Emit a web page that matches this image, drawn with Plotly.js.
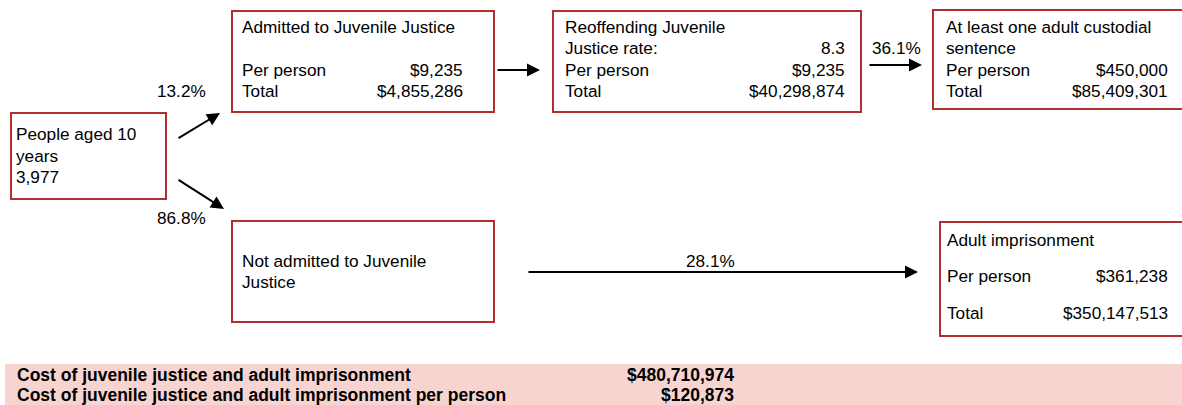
<!DOCTYPE html>
<html>
<head>
<meta charset="utf-8">
<script src="https://cdn.plot.ly/plotly-3.0.1.min.js"></script>
<style>html,body{margin:0;padding:0;background:#fff;}#chart{width:1182px;height:405px;}</style>
</head>
<body>
<div id="chart"></div>
<script>
// ---- data ----
const startLabel = ["People aged 10", "years", "3,977"];
const admittedTitle = ["Admitted to Juvenile Justice"];
const admittedRows = ["Per person", "Total"];
const admittedValues = ["$9,235", "$4,855,286"];
const reoffTitle = ["Reoffending Juvenile"];
const reoffRows = ["Justice rate:", "Per person", "Total"];
const reoffValues = ["8.3", "$9,235", "$40,298,874"];
const custodialTitle = ["At least one adult custodial", "sentence"];
const custodialRows = ["Per person", "Total"];
const custodialValues = ["$450,000", "$85,409,301"];
const notAdmittedTitle = ["Not admitted to Juvenile", "Justice"];
const adultTitle = ["Adult imprisonment"];
const adultRows = ["Per person", "Total"];
const adultValues = ["$361,238", "$350,147,513"];
const flowPercents = ["13.2%", "86.8%", "36.1%", "28.1%"];
const summaryLabels = ["Cost of juvenile justice and adult imprisonment",
                       "Cost of juvenile justice and adult imprisonment per person"];
const summaryValues = ["$480,710,974", "$120,873"];

// ---- layout / style ----
const FONT = "Liberation Sans, Arial, sans-serif";
const FS = 17.2;
const BFS = 17.5;
const BORDER = "#b0302f";
const shapes = [];
const ann = [];

function box(x0, y0, x1, y1) {
  shapes.push({type: "rect", xref: "x", yref: "y", x0, y0, x1, y1,
    line: {color: BORDER, width: 2}, fillcolor: "rgba(0,0,0,0)"});
}
function txt(x, y, t, anchor, opts) {
  opts = opts || {};
  anchor = anchor || "left";
  const dx = anchor === "left" ? -1 : (anchor === "right" ? -1 : 0);
  ann.push({xref: "x", yref: "y", x: x + dx, y, text: t, showarrow: false,
    xanchor: anchor, yanchor: "middle", borderpad: 0,
    font: {family: FONT, size: opts.size || FS, color: "#000",
           weight: opts.weight || "normal"}});
}
function arrow(x0, y0, x1, y1) {
  ann.push({xref: "x", yref: "y", axref: "x", ayref: "y", x: x1, y: y1, ax: x0, ay: y0,
    text: "", showarrow: true, arrowhead: 2, arrowsize: 1.3, arrowwidth: 2,
    arrowcolor: "#000", standoff: 0, startstandoff: 0});
}

// summary band
shapes.push({type: "rect", xref: "x", yref: "y", x0: 5, x1: 1190, y0: 364, y1: 410,
  line: {width: 0}, fillcolor: "#f8d4d1", layer: "below"});

// boxes
box(11, 113, 166, 199);
box(232, 11, 494, 112);
box(553, 11, 861, 112);
box(933, 10, 1192, 109);
box(232, 221, 494, 322);
box(940, 222, 1192, 336);

// People aged 10
startLabel.forEach((t, i) => txt(16, [134, 156, 177][i], t));

// Admitted
txt(242, 27, admittedTitle[0]);
admittedRows.forEach((t, i) => txt(242, [70, 91][i], t));
admittedValues.forEach((t, i) => txt(465, [70, 91][i], t, "right"));

// Reoffending
txt(565, 27, reoffTitle[0]);
reoffRows.forEach((t, i) => txt(565, [48, 70, 91][i], t));
reoffValues.forEach((t, i) => txt(847, [48, 70, 91][i], t, "right"));

// Custodial
custodialTitle.forEach((t, i) => txt(946, [27, 48][i], t));
custodialRows.forEach((t, i) => txt(946, [70, 91][i], t));
custodialValues.forEach((t, i) => txt(1170, [70, 91][i], t, "right"));

// Not admitted
notAdmittedTitle.forEach((t, i) => txt(242, [261, 282][i], t));

// Adult imprisonment
txt(947, 240, adultTitle[0]);
adultRows.forEach((t, i) => txt(947, [276, 313][i], t));
adultValues.forEach((t, i) => txt(1170, [276, 313][i], t, "right"));

// percents
txt(208, 91, flowPercents[0], "right");
txt(208, 218, flowPercents[1], "right");
txt(896, 48, flowPercents[2], "center");
txt(710, 261, flowPercents[3], "center");

// arrows
arrow(177, 139, 220, 113);
arrow(177, 179, 224, 209);
arrow(496, 70, 540, 70);
arrow(868, 65, 922, 65);
arrow(527, 272, 918, 272);

// summary
summaryLabels.forEach((t, i) => txt(17, [375, 394.5][i], t, "left", {weight: "bold", size: BFS}));
summaryValues.forEach((t, i) => txt(736, [375, 394.5][i], t, "right", {weight: "bold", size: BFS}));

const layout = {
  width: 1182, height: 405,
  margin: {l: 0, r: 0, t: 0, b: 0},
  paper_bgcolor: "#fff", plot_bgcolor: "#fff",
  xaxis: {range: [0, 1182], visible: false, fixedrange: true},
  yaxis: {range: [405, 0], visible: false, fixedrange: true},
  showlegend: false,
  shapes: shapes,
  annotations: ann
};
Plotly.newPlot("chart", [{x: [], y: [], type: "scatter"}], layout, {staticPlot: true});
</script>
</body>
</html>
